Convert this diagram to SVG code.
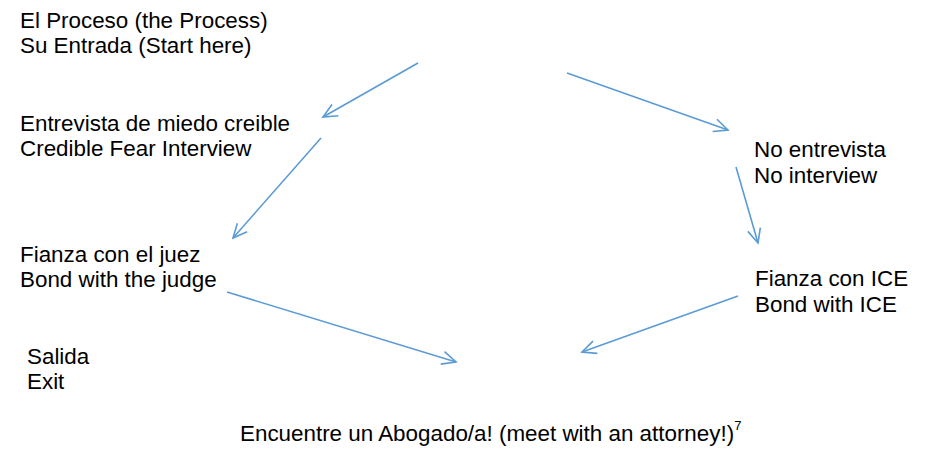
<svg xmlns="http://www.w3.org/2000/svg" width="940" height="458" viewBox="0 0 940 458">
<defs>
<style>
text{font-family:"Liberation Sans",Arial,sans-serif;font-size:22.4px;fill:#000}
.c{stroke:#5B9BD5;stroke-width:1.6;fill:none;marker-end:url(#ah)}
</style>
<marker id="ah" markerUnits="userSpaceOnUse" markerWidth="20" markerHeight="20" refX="15" refY="10" orient="auto" viewBox="0 0 20 20">
<path d="M1,3.5 L15,10 L1,16.5" fill="none" stroke="#5B9BD5" stroke-width="1.6"/>
</marker>
</defs>
<rect width="940" height="458" fill="#fff"/>
<g id="start"><text x="20" y="28">El Proceso (the Process)</text><text x="20" y="53">Su Entrada (Start here)</text></g>
<g id="cfi"><text x="20" y="131">Entrevista de miedo creible</text><text x="20" y="156">Credible Fear Interview</text></g>
<g id="noint"><text x="754" y="157">No entrevista</text><text x="754" y="183">No interview</text></g>
<g id="bondjudge"><text x="20" y="262">Fianza con el juez</text><text x="20" y="287">Bond with the judge</text></g>
<g id="bondice"><text x="755" y="286">Fianza con ICE</text><text x="755" y="312">Bond with ICE</text></g>
<g id="exit"><text x="27" y="364">Salida</text><text x="27" y="389">Exit</text></g>
<g id="attorney"><text x="240" y="441">Encuentre un Abogado/a! (meet with an attorney!)<tspan font-size="13" dy="-11">7</tspan></text></g>
<g id="connectors">
<line class="c" x1="418" y1="63" x2="323" y2="117"/>
<line class="c" x1="321" y1="138" x2="233" y2="238"/>
<line class="c" x1="567" y1="73" x2="728" y2="130"/>
<line class="c" x1="736" y1="167" x2="758" y2="243"/>
<line class="c" x1="227" y1="292" x2="456" y2="362"/>
<line class="c" x1="738" y1="296" x2="582" y2="352"/>
</g>
</svg>
